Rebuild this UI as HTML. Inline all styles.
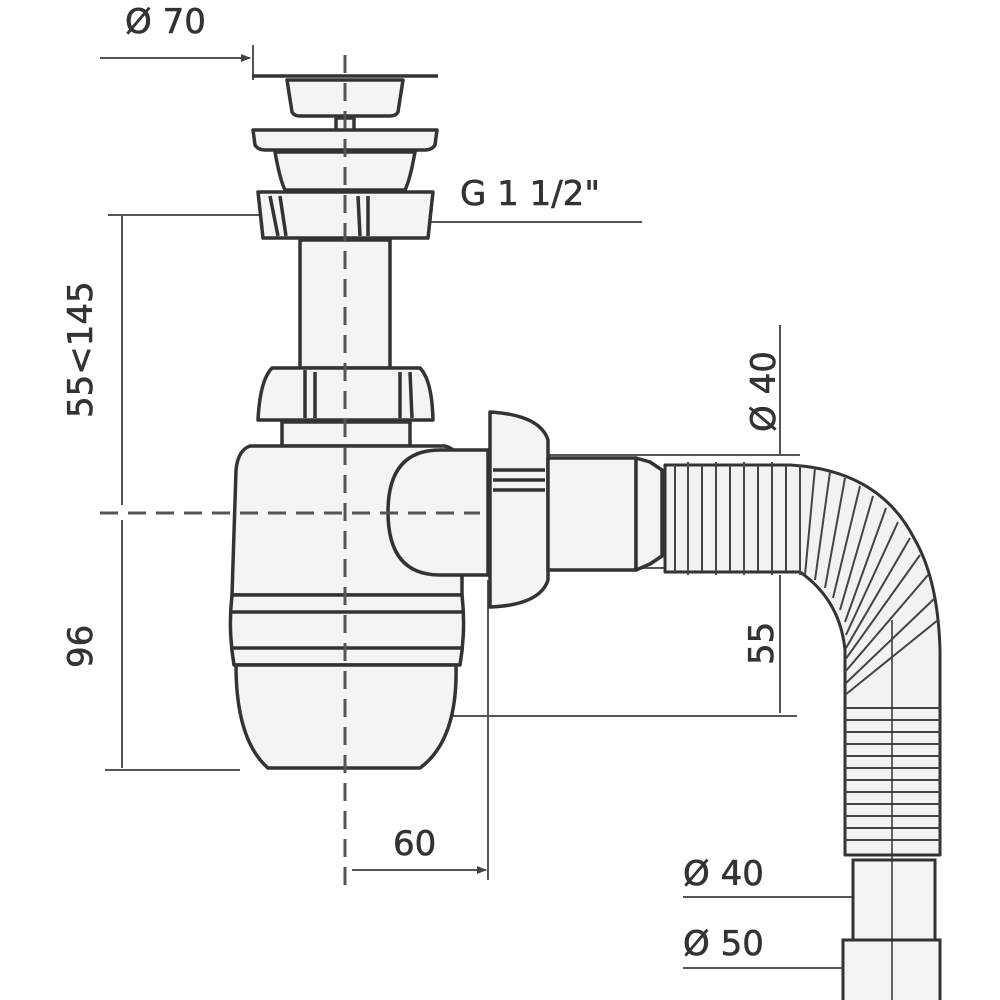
<!DOCTYPE html>
<html><head><meta charset="utf-8"><style>
html,body{margin:0;padding:0;background:#fff}
svg{display:block}
text{font-family:"DejaVu Sans","Liberation Sans",sans-serif;fill:#333;stroke:#333;stroke-width:0.6}
</style></head><body>
<svg width="1000" height="1000" viewBox="0 0 1000 1000" xmlns="http://www.w3.org/2000/svg">
<defs>
<marker id="ar" markerWidth="10" markerHeight="8" refX="9" refY="4" orient="auto" markerUnits="userSpaceOnUse"><path d="M0,0 L10,4 L0,8 z" fill="#444"/></marker>
</defs>
<g stroke="#555" stroke-width="2" fill="none">
<line x1="100" y1="58" x2="250" y2="58" marker-end="url(#ar)"/>
<line x1="253" y1="45" x2="253" y2="80"/>
<line x1="108" y1="215" x2="262" y2="215"/>
<line x1="122" y1="215" x2="122" y2="505"/>
<line x1="122" y1="520" x2="122" y2="768"/>
<line x1="105" y1="770" x2="240" y2="770"/>
<line x1="400" y1="222" x2="642" y2="222"/>
<line x1="780" y1="325" x2="780" y2="455"/>
<line x1="548" y1="455" x2="800" y2="455"/>
<line x1="560" y1="568" x2="795" y2="568"/>
<line x1="780" y1="575" x2="780" y2="713"/>
<line x1="390" y1="716" x2="797" y2="716"/>
<line x1="488" y1="580" x2="488" y2="880"/>
<line x1="352" y1="870" x2="486" y2="870" marker-end="url(#ar)"/>
<line x1="683" y1="897" x2="935" y2="897"/>
<line x1="683" y1="968" x2="940" y2="968"/>
</g>
<g stroke="#333" stroke-width="3.5" fill="#f4f4f4" stroke-linejoin="round">
<line x1="252" y1="76" x2="438" y2="76"/>
<path d="M287,80 L403,80 L398,112 Q396,116 390,116 L300,116 Q294,116 292,112 Z"/>
<rect x="336" y="118" width="18" height="16"/>
<path d="M253,130 L437,130 L435,145 Q432,150 425,150 L265,150 Q258,150 255,145 Z"/>
<path d="M275,152 L415,152 Q410,180 405,190 L285,190 Q280,180 275,152 Z"/>
<path d="M258,192 L433,192 L428,238 L263,238 Z"/>
<path d="M270,196 L278,236 M280,196 L286,236 M358,196 L360,236 M368,196 L368,236" fill="none"/>
<rect x="300" y="240" width="90" height="128"/>
<path d="M272,368 L420,368 Q432,380 433,420 L258,420 Q260,380 272,368 Z"/>
<path d="M305,370 L305,418 M315,372 L315,418 M400,372 L400,418 M410,372 L412,418" fill="none"/>
<rect x="282" y="422" width="128" height="24"/>
<path d="M250,446 L445,446 Q460,450 462,470 L462,595 L232,595 L236,470 Q238,450 250,446 Z"/>
<path d="M232,595 L462,595 Q466,630 460,665 L234,665 Q228,630 232,595 Z"/>
<line x1="232" y1="612" x2="462" y2="612"/>
<line x1="232" y1="648" x2="462" y2="648"/>
<path d="M236,665 L456,665 Q458,740 420,768 L268,768 Q236,740 236,665 Z"/>
<path d="M440,450 L488,450 L488,575 L440,575 Q388,575 388,512 Q388,450 440,450 Z"/>
<path d="M490,412 Q540,415 548,440 L548,580 Q540,605 490,607 Z"/>
<path d="M493,470 L545,470 M493,480 L545,480 M493,490 L545,490" fill="none"/>
<rect x="548" y="458" width="88" height="112"/>
<path d="M636,458 L650,462 L662,470 L662,556 L650,564 L636,570 Z"/>
</g>
<g stroke="#333" stroke-width="3" fill="#f2f2f2" stroke-linejoin="round">
<path d="M665,465 L790,465 Q880,470 915,540 Q938,580 940,650 L940,855 L845,855 L845,650 Q840,600 800,572 L665,572 Z"/>
</g>
<g stroke="#444" stroke-width="2" fill="none">
<path d="M675,465 L675,572 M688,462 L688,575 M702,465 L702,572 M716,462 L716,575 M730,465 L730,572 M744,462 L744,575 M758,465 L758,572 M772,462 L772,575 M786,465 L786,572 M800,465 L800,575"/>
<path d="M815,468 L805,575 M830,472 L815,580 M845,478 L825,588 M860,486 L833,598 M873,496 L840,610 M886,508 L845,622 M898,522 L846,635 M910,538 L846,648"/>
<path d="M920,555 L845,660 M928,575 L845,672 M935,598 L845,684 M938,620 L845,695"/>
<path d="M845,708 L940,708 M845,720 L940,720 M845,732 L940,732 M845,744 L940,744 M845,756 L940,756 M845,768 L940,768 M845,780 L940,780 M845,792 L940,792 M845,804 L940,804 M845,816 L940,816 M845,828 L940,828 M845,840 L940,840"/>
</g>
<g stroke="#333" stroke-width="3" fill="#f4f4f4">
<rect x="853" y="860" width="82" height="80"/>
<rect x="843" y="940" width="97" height="62"/>
</g>
<g stroke="#555" stroke-width="3" stroke-dasharray="18,10" fill="none">
<line x1="345" y1="55" x2="345" y2="890"/>
<line x1="100" y1="513" x2="480" y2="513"/>
</g>
<g stroke="#333" stroke-width="1.5" fill="none">
<line x1="892" y1="620" x2="892" y2="1000"/>
</g>
<text x="125" y="33" font-size="34">Ø 70</text>
<text x="460" y="205" font-size="34">G 1 1/2"</text>
<text x="0" y="0" font-size="34" transform="translate(92,418) rotate(-90)">55&lt;145</text>
<text x="0" y="0" font-size="34" transform="translate(92,668) rotate(-90)">96</text>
<text x="0" y="0" font-size="34" transform="translate(775,432) rotate(-90)">Ø 40</text>
<text x="0" y="0" font-size="34" transform="translate(773,665) rotate(-90)">55</text>
<text x="393" y="855" font-size="34">60</text>
<text x="683" y="885" font-size="34">Ø 40</text>
<text x="683" y="955" font-size="34">Ø 50</text>
</svg>
</body></html>
